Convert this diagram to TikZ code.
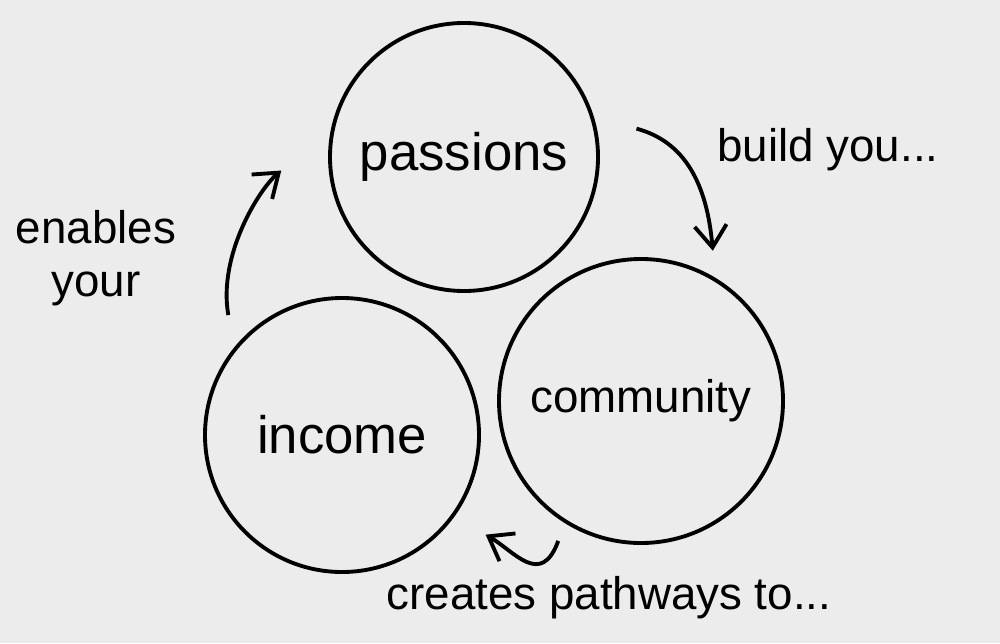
\documentclass[tikz,border=0pt]{standalone}
\usepackage{fontspec}
\setmainfont{Liberation Sans}
\usetikzlibrary{arrows.meta}
\definecolor{paper}{RGB}{236,236,236}

\begin{document}
\begin{tikzpicture}[line width=1.1pt,
    cnode/.style={draw,circle,inner sep=0pt,font=\fontsize{15}{18}\selectfont},
    note/.style={font=\fontsize{13}{15}\selectfont,align=center},
    flow/.style={-{Straight Barb[length=2.2mm,width=3.2mm]}}]
    \fill[paper] (0,0) rectangle (10,6.43);
    \useasboundingbox (0,0) rectangle (10,6.43);

    \node[cnode,minimum size=2.68cm] (pas) at (4.64,4.86) {passions};
    \node[cnode,minimum size=2.84cm,font=\fontsize{13}{16}\selectfont] (com) at (6.41,2.42) {community};
    \node[cnode,minimum size=2.74cm] (inc) at (3.42,2.08) {income};

    \node[note] (build) at (8.28,4.93) {build you...};
    \node[note] (creates) at (6.09,0.45) {creates pathways to...};
    \node[note] (enables) at (0.96,3.85) {enables\\your};

    \draw[flow,shorten <=0.44cm,shorten >=0.27cm] (pas.17) to[out=-15,in=95,looseness=1.2] (com.59);
    \draw[flow,shorten <=0.19cm,shorten >=0.36cm] (com.238) to[out=-110,in=-30,looseness=1.6] (inc.-36);
    \draw[flow,shorten <=0.33cm,shorten >=0.65cm] (inc.141) to[out=100,in=220] (pas.168);
\end{tikzpicture}
\end{document}
